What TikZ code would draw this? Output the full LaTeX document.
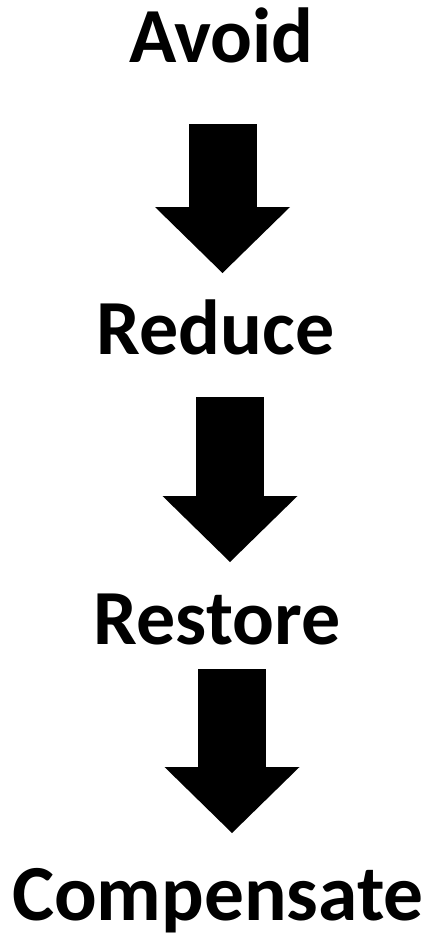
\documentclass[tikz,border=0pt]{standalone}
\usepackage{fontspec}
\setmainfont{Carlito}
\usetikzlibrary{arrows.meta}

\begin{document}
\begin{tikzpicture}[x=1pt, y=-1pt,
    step label/.style={font=\bfseries\fontsize{78}{90}\selectfont, inner sep=0pt, anchor=base},
    block arrow/.style={line width=68pt, black,
                -{Triangle[length=66pt, width=135pt, line width=0pt]}},
]
  \useasboundingbox (0,0) rectangle (429,940);

  \node[step label] (avoid)   at (221.5,62)  {Avoid};
  \node[step label] (reduce)  at (215.5,354) {Reduce};
  \node[step label] (restore) at (217,644)   {Restore};
  \node[step label, font=\bfseries\fontsize{79.5}{90}\selectfont] (comp) at (218,920) {Compensate};

  \coordinate (a1top) at (222.5,124);
  \coordinate (a1tip) at (222.5,273);
  \coordinate (a2top) at (230,397);
  \coordinate (a2tip) at (230,562);
  \coordinate (a3top) at (232,669);
  \coordinate (a3tip) at (232,833);

  \draw[block arrow] (a1top) -- (a1tip);
  \draw[block arrow] (a2top) -- (a2tip);
  \draw[block arrow] (a3top) -- (a3tip);
\end{tikzpicture}
\end{document}
